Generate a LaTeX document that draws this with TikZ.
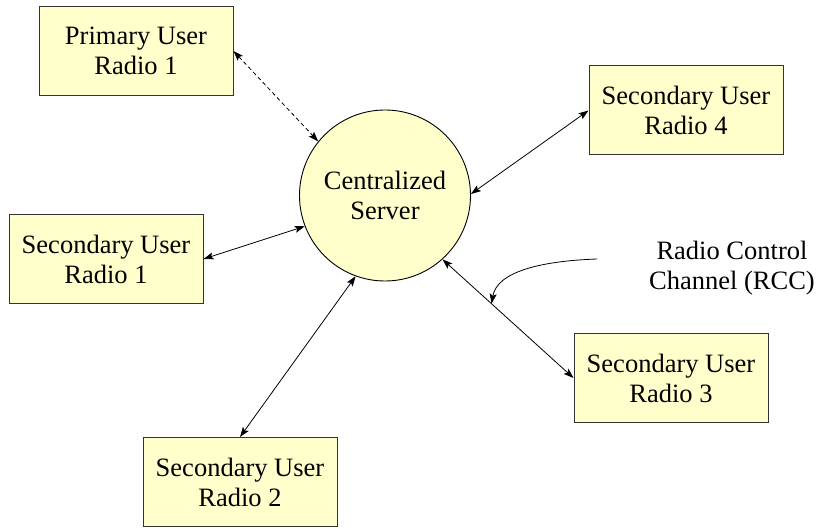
\documentclass[tikz,border=0pt]{standalone}
\usepackage{fontspec}
\setmainfont{Liberation Serif}
\usetikzlibrary{arrows.meta}
\definecolor{boxfill}{HTML}{FFFFCC}
\begin{document}
\begin{tikzpicture}[x=1pt,y=-1pt,
  every node/.style={font=\fontsize{26.5}{30}\selectfont, align=center},
  radiobox/.style={draw=black!80, line width=1pt, fill=boxfill, rectangle, minimum width=194pt, minimum height=89pt, inner sep=0pt},
  srv/.style={draw=black, line width=0.9pt, fill=boxfill, circle, minimum size=171pt, inner sep=0pt},
  tip/.style={Stealth[length=10pt,width=7pt,inset=2pt]},
  link/.style={line width=0.8pt, {Stealth[length=10pt,width=7pt,inset=2pt]}-{Stealth[length=10pt,width=7pt,inset=2pt]}},
  dlink/.style={link, dash pattern=on 4pt off 3pt}
]
\useasboundingbox (0,0) rectangle (820,529);
\node[srv] (server) at (385,195.5) {Centralized\\Server};
\node[radiobox] (pu1) at (136,51) {Primary User\\Radio 1};
\node[radiobox] (su4) at (686,110.5) {Secondary User\\Radio 4};
\node[radiobox] (su1) at (106,259) {Secondary User\\Radio 1};
\node[radiobox] (su3) at (671,378) {Secondary User\\Radio 3};
\node[radiobox] (su2) at (240,482) {Secondary User\\Radio 2};
\node (rcc) at (732,268) {Radio Control\\Channel (RCC)};

\draw[dlink] (pu1.east) -- (server.141);
\draw[link] (su1.east) -- (server.201);
\draw[link] (su2.north) -- (server.250.5);
\draw[link] (su4.west) -- (server.1);
\draw[link] (su3.west) -- coordinate[pos=0.626] (rcce) (server.312);
\coordinate (rccs) at (597,259);
\draw[line width=0.8pt, -{Stealth[length=10pt,width=7pt,inset=2pt]}] (rccs) .. controls (540,261) and (497,272) .. (rcce);
\end{tikzpicture}
\end{document}
